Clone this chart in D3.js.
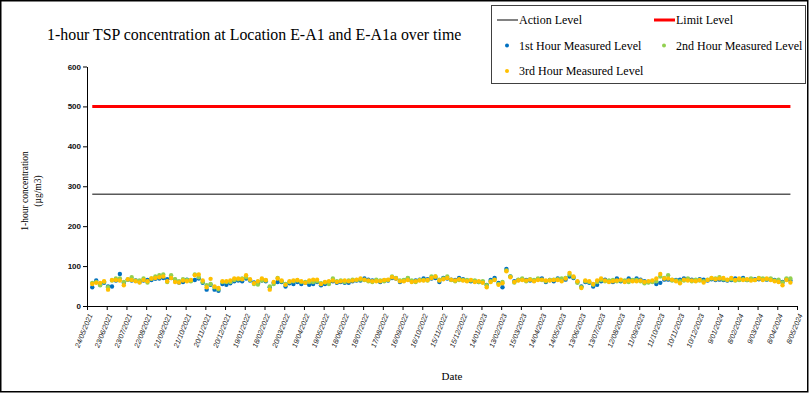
<!DOCTYPE html>
<html>
<head>
<meta charset="utf-8">
<script src="https://cdn.jsdelivr.net/npm/d3@7"></script>
<style>
  html, body { margin: 0; padding: 0; background: #fff; }
  svg { display: block; }
</style>
</head>
<body>
<svg id="chart" width="812" height="394"></svg>
<script>
const title = "1-hour TSP concentration at Location E-A1 and E-A1a over time";
const yTitle = ["1-hour concentration", "(µg/m3)"];
const xTitle = "Date";
const seriesNames = ["Action Level", "Limit Level", "1st Hour Measured Level", "2nd Hour Measured Level", "3rd Hour Measured Level"];
const actionLevel = 280;
const limitLevel = 500;
const yTicks = [0, 100, 200, 300, 400, 500, 600];
const xTickLabels = ["24/05/2021","23/06/2021","23/07/2021","22/08/2021","21/09/2021","21/10/2021","20/11/2021","20/12/2021","19/01/2022","18/02/2022","20/03/2022","19/04/2022","19/05/2022","18/06/2022","18/07/2022","17/08/2022","16/09/2022","16/10/2022","15/11/2022","15/12/2022","14/01/2023","13/02/2023","15/03/2023","14/04/2023","14/05/2023","13/06/2023","13/07/2023","12/08/2023","11/09/2023","11/10/2023","10/11/2023","10/12/2023","9/01/2024","8/02/2024","9/03/2024","8/04/2024","8/05/2024"];

const dates = [
"2021-06-01","2021-06-07","2021-06-13","2021-06-19","2021-06-25","2021-07-01","2021-07-07","2021-07-13","2021-07-19","2021-07-25","2021-07-31","2021-08-06","2021-08-12","2021-08-18","2021-08-24","2021-08-30","2021-09-05","2021-09-11","2021-09-17","2021-09-23","2021-09-29","2021-10-05","2021-10-11","2021-10-17","2021-10-23","2021-10-29","2021-11-04","2021-11-10","2021-11-16","2021-11-22","2021-11-28","2021-12-04","2021-12-10","2021-12-16","2021-12-22","2021-12-28",
"2022-01-03","2022-01-09","2022-01-15","2022-01-21","2022-01-27","2022-02-02","2022-02-08","2022-02-14","2022-02-20","2022-02-26","2022-03-04","2022-03-10","2022-03-16","2022-03-22","2022-03-28","2022-04-03","2022-04-09","2022-04-15","2022-04-21","2022-04-27","2022-05-03","2022-05-09","2022-05-15","2022-05-21","2022-05-27","2022-06-02","2022-06-08","2022-06-14","2022-06-20","2022-06-26","2022-07-02","2022-07-08","2022-07-14","2022-07-20","2022-07-26","2022-08-01","2022-08-07","2022-08-13","2022-08-19","2022-08-25","2022-08-31","2022-09-06","2022-09-12","2022-09-18","2022-09-24","2022-09-30","2022-10-06","2022-10-12","2022-10-18","2022-10-24","2022-10-30","2022-11-05","2022-11-11","2022-11-17","2022-11-23","2022-11-29","2022-12-05","2022-12-11","2022-12-17","2022-12-23","2022-12-29",
"2023-01-04","2023-01-10","2023-01-16","2023-01-22","2023-01-28","2023-02-03","2023-02-09","2023-02-15","2023-02-21","2023-02-27","2023-03-05","2023-03-11","2023-03-17","2023-03-23","2023-03-29","2023-04-04","2023-04-10","2023-04-16","2023-04-22","2023-04-28","2023-05-04","2023-05-10","2023-05-16","2023-05-22","2023-05-28","2023-06-03","2023-06-09","2023-06-15","2023-06-21","2023-06-27","2023-07-03","2023-07-09","2023-07-15","2023-07-21","2023-07-27","2023-08-02","2023-08-08","2023-08-14","2023-08-20","2023-08-26","2023-09-01","2023-09-07","2023-09-13","2023-09-19","2023-09-25","2023-10-01","2023-10-07","2023-10-13","2023-10-19","2023-10-25","2023-10-31","2023-11-06","2023-11-12","2023-11-18","2023-11-24","2023-11-30","2023-12-06","2023-12-12","2023-12-18","2023-12-24","2023-12-30",
"2024-01-05","2024-01-11","2024-01-17","2024-01-23","2024-01-29","2024-02-04","2024-02-10","2024-02-16","2024-02-22","2024-02-28","2024-03-05","2024-03-11","2024-03-17","2024-03-23","2024-03-29","2024-04-04","2024-04-10","2024-04-16","2024-04-22","2024-04-28"
];

const hour1 = [
47,64,53,58,49,49,64,80,58,66,64,64,60,64,65,65,68,69,70,67,70,66,59,60,66,64,65,69,58,41,53,41,38,55,53,57,62,64,62,69,64,59,57,64,62,47,58,60,60,49,57,55,60,55,58,53,55,60,52,55,
60,62,58,60,58,58,62,64,64,69,66,64,64,60,64,64,70,69,60,64,69,62,64,66,69,67,69,70,60,70,69,66,65,70,67,64,62,62,60,60,53,65,70,58,47,93,74,62,65,67,65,64,64,67,69,60,65,62,69,66,
66,74,70,60,49,60,58,49,53,62,66,62,60,69,62,62,69,64,69,66,62,60,62,55,58,66,66,65,65,66,69,67,66,64,67,66,64,67,65,66,65,64,65,69,66,70,65,67,67,67,67,66,67,65,62,60,67,64
];
const hour2 = [
58,60,52,60,47,64,69,69,60,66,72,64,64,69,59,69,74,77,79,60,77,67,62,67,65,62,79,72,60,52,55,47,42,60,60,60,65,67,69,72,65,55,54,64,64,49,55,70,62,55,60,62,64,60,60,60,60,62,57,59,
55,69,62,64,60,64,66,65,66,65,62,60,66,64,62,65,74,70,64,65,70,64,60,65,65,64,74,74,66,69,74,65,62,65,65,65,64,64,60,62,52,62,66,55,60,89,74,59,66,69,62,67,65,69,65,62,65,66,67,69,
70,79,72,58,47,62,60,53,60,65,62,64,65,62,64,64,60,65,65,62,57,59,60,62,74,70,77,64,64,62,64,69,62,66,64,62,66,69,69,72,67,65,67,64,65,67,65,69,65,70,69,67,69,64,66,59,69,69
];
const hour3 = [
55,58,58,62,41,65,65,64,52,67,65,62,59,65,62,69,70,72,74,62,70,60,59,64,62,65,77,79,64,47,68,49,45,62,62,64,69,69,67,77,67,57,62,69,65,41,60,69,64,53,62,64,65,62,58,64,66,66,55,60,
62,64,60,62,64,62,64,66,69,66,64,62,62,62,65,66,72,69,62,62,65,60,62,64,64,65,70,74,64,67,70,66,64,67,64,62,65,60,62,58,47,60,65,53,57,87,72,60,64,65,64,66,62,65,66,64,64,65,65,62,
69,83,74,62,45,64,62,55,64,69,64,60,62,64,66,60,64,62,62,64,60,62,64,69,80,69,69,66,62,57,66,64,64,62,65,59,65,70,67,69,70,66,70,65,69,65,67,64,65,69,65,69,65,62,60,52,65,59
];

const colors = { action: "#595959", limit: "#ff0000", h1: "#0070c0", h2: "#92d050", h3: "#ffc000" };

const parseISO = d3.timeParse("%Y-%m-%d");
const parseDMY = d3.timeParse("%d/%m/%Y");
const dateObjs = dates.map(parseISO);
const tickDates = xTickLabels.map(parseDMY);

const svg = d3.select("#chart");
const serif = "'Liberation Serif','Times New Roman',serif";
const sans = "'Liberation Sans',Arial,sans-serif";

// outer frame
svg.append("rect").attr("x", 0.75).attr("y", 0.75).attr("width", 807).attr("height", 391)
  .attr("fill", "#fff").attr("stroke", "#000").attr("stroke-width", 1.5);

const x = d3.scaleTime().domain([tickDates[0], tickDates[tickDates.length - 1]]).range([87, 797]);
const y = d3.scaleLinear().domain([0, 600]).range([306, 66.5]);

// title
svg.append("text").attr("x", 47).attr("y", 40).attr("font-family", serif).attr("font-size", 15.9)
  .attr("fill", "#000").text(title);

// axes
const xAxis = svg.append("g").attr("transform", "translate(0,306)")
  .call(d3.axisBottom(x).tickValues(tickDates).tickSize(4).tickSizeOuter(0)
    .tickFormat((d, i) => xTickLabels[i]));
xAxis.select(".domain").attr("stroke", "#000");
xAxis.selectAll(".tick line").attr("stroke", "#000");
xAxis.selectAll(".tick text")
  .attr("x", 0).attr("y", 0).attr("dy", "0.35em")
  .attr("text-anchor", "end")
  .attr("transform", "translate(3,8) rotate(-68)")
  .attr("font-family", sans).attr("font-size", 7.2).attr("font-style", "italic").attr("fill", "#222");

const yAxis = svg.append("g").attr("transform", "translate(87,0)")
  .call(d3.axisLeft(y).tickValues(yTicks).tickSize(4).tickSizeOuter(0).tickPadding(2));
yAxis.select(".domain").attr("stroke", "#000");
yAxis.selectAll(".tick line").attr("stroke", "#000");
yAxis.selectAll(".tick text").attr("font-family", sans).attr("font-size", 8).attr("font-weight", "bold").attr("fill", "#111");

// axis titles
const yt = svg.append("text").attr("transform", "translate(31,191) rotate(-90)")
  .attr("text-anchor", "middle").attr("font-family", serif).attr("font-size", 9.5).attr("fill", "#000");
yt.append("tspan").attr("x", 0).attr("y", -3).text(yTitle[0]);
yt.append("tspan").attr("x", 0).attr("y", 10).text(yTitle[1]);

svg.append("text").attr("x", 452).attr("y", 380).attr("text-anchor", "middle")
  .attr("font-family", serif).attr("font-size", 11).attr("fill", "#000").text(xTitle);

// level lines
const x0 = x(dateObjs[0]), x1 = x(dateObjs[dateObjs.length - 1]);
svg.append("line").attr("x1", x0).attr("x2", x1).attr("y1", y(actionLevel)).attr("y2", y(actionLevel))
  .attr("stroke", colors.action).attr("stroke-width", 1.5);
svg.append("line").attr("x1", x0).attr("x2", x1).attr("y1", y(limitLevel)).attr("y2", y(limitLevel))
  .attr("stroke", colors.limit).attr("stroke-width", 3);

// points
function drawSeries(vals, color) {
  svg.append("g").selectAll("circle").data(vals).join("circle")
    .attr("cx", (d, i) => x(dateObjs[i]))
    .attr("cy", d => y(d))
    .attr("r", 2.2)
    .attr("fill", color);
}
drawSeries(hour1, colors.h1);
drawSeries(hour2, colors.h2);
drawSeries(hour3, colors.h3);

// legend
const lg = svg.append("g");
lg.append("rect").attr("x", 491.5).attr("y", 5.5).attr("width", 314).attr("height", 78)
  .attr("fill", "#fff").attr("stroke", "#404040").attr("stroke-width", 1);
const lfont = (sel) => sel.attr("font-family", serif).attr("font-size", 12).attr("fill", "#000");
lg.append("line").attr("x1", 497).attr("x2", 518).attr("y1", 20).attr("y2", 20).attr("stroke", colors.action).attr("stroke-width", 1.5);
lg.append("text").attr("x", 519).attr("y", 24).call(lfont).text(seriesNames[0]);
lg.append("line").attr("x1", 654).attr("x2", 675).attr("y1", 20).attr("y2", 20).attr("stroke", colors.limit).attr("stroke-width", 3);
lg.append("text").attr("x", 676).attr("y", 24).call(lfont).text(seriesNames[1]);
lg.append("circle").attr("cx", 507).attr("cy", 45.5).attr("r", 2).attr("fill", colors.h1);
lg.append("text").attr("x", 519).attr("y", 50).call(lfont).text(seriesNames[2]);
lg.append("circle").attr("cx", 664).attr("cy", 45.5).attr("r", 2).attr("fill", colors.h2);
lg.append("text").attr("x", 676).attr("y", 50).call(lfont).text(seriesNames[3]);
lg.append("circle").attr("cx", 507).attr("cy", 71).attr("r", 2).attr("fill", colors.h3);
lg.append("text").attr("x", 519).attr("y", 75).call(lfont).text(seriesNames[4]);
</script>
</body>
</html>
